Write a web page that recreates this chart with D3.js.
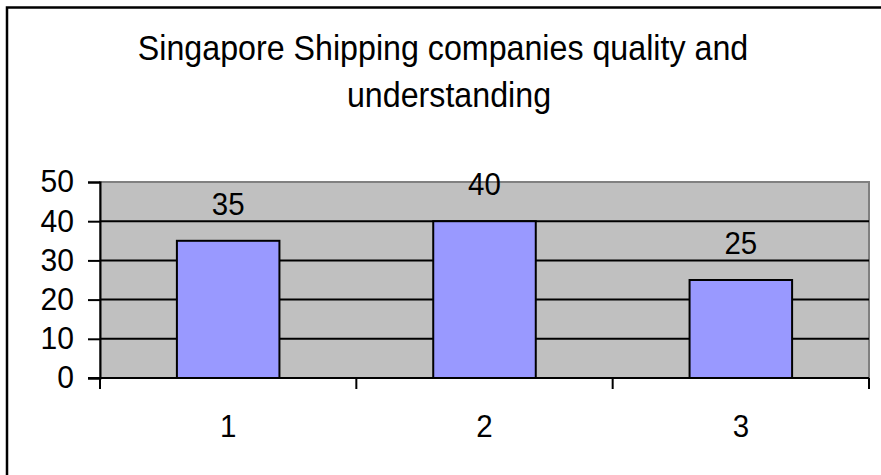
<!DOCTYPE html>
<html>
<head>
<meta charset="utf-8">
<script src="https://cdn.jsdelivr.net/npm/d3@7"></script>
<style>
html,body{margin:0;padding:0;background:#fff;}
svg{display:block;font-family:"Liberation Sans",Arial,sans-serif;}
</style>
</head>
<body>
<svg id="chart" width="881" height="475"></svg>
<script>
const categories = ["1", "2", "3"];
const values = [35, 40, 25];
const yTicks = [0, 10, 20, 30, 40, 50];
const titleLines = ["Singapore Shipping companies quality and", "understanding"];

const svg = d3.select("#chart");
const plot = {left: 100, right: 869, top: 182, bottom: 378};

function condense(sel, factor) {
  sel.each(function() {
    const w = this.getComputedTextLength();
    d3.select(this).attr("textLength", w * factor).attr("lengthAdjust", "spacingAndGlyphs");
  });
}

// outer chart border (extends beyond the picture on right/bottom)
svg.append("rect").attr("x", 7).attr("y", 7.5).attr("width", 900).attr("height", 500)
  .attr("fill", "#fff").attr("stroke", "#000").attr("stroke-width", 2.5);

// title (first line carries a trailing space in the original, shifting it slightly left)
svg.append("g").selectAll("text").data(titleLines).join("text")
  .attr("x", 449).attr("dx", (d, i) => i === 0 ? -6 : 0)
  .attr("y", (d, i) => 60 + i * 47)
  .attr("text-anchor", "middle").attr("font-size", 35).attr("fill", "#000")
  .text(d => d)
  .call(condense, 0.92);

const x = d3.scaleBand().domain(categories).range([plot.left, plot.right]).paddingInner(0.6).paddingOuter(0.3);
const xb = d3.scaleBand().domain(categories).range([plot.left, plot.right]);
const y = d3.scaleLinear().domain([0, 50]).range([plot.bottom, plot.top]);

// plot area
svg.append("rect").attr("x", plot.left).attr("y", plot.top)
  .attr("width", plot.right - plot.left).attr("height", plot.bottom - plot.top)
  .attr("fill", "#C0C0C0").attr("stroke", "#808080").attr("stroke-width", 2);

// gridlines
svg.append("g").selectAll("line").data(yTicks.filter(t => t > 0 && t < 50)).join("line")
  .attr("x1", plot.left).attr("x2", plot.right)
  .attr("y1", d => y(d)).attr("y2", d => y(d))
  .attr("stroke", "#000").attr("stroke-width", 2);

// bars
svg.append("g").selectAll("rect").data(values).join("rect")
  .attr("x", (d, i) => x(categories[i]))
  .attr("y", d => y(d))
  .attr("width", x.bandwidth())
  .attr("height", d => y(0) - y(d))
  .attr("fill", "#9999FF").attr("stroke", "#000").attr("stroke-width", 2);

// value labels
svg.append("g").selectAll("text").data(values).join("text")
  .attr("x", (d, i) => x(categories[i]) + x.bandwidth() / 2)
  .attr("y", d => y(d) - 26)
  .attr("text-anchor", "middle").attr("font-size", 31).attr("fill", "#000")
  .text(d => d)
  .call(condense, 0.95);

// y axis
const yAxis = svg.append("g").attr("transform", `translate(${plot.left},0)`)
  .call(d3.axisLeft(y).tickValues(yTicks).tickSize(12).tickPadding(14));
yAxis.select(".domain").attr("stroke", "#000").attr("stroke-width", 2);
yAxis.selectAll(".tick line").attr("stroke", "#000").attr("stroke-width", 2);
yAxis.selectAll(".tick text").attr("font-size", 31).attr("font-family", "Liberation Sans, Arial, sans-serif").attr("fill", "#000")
  .call(condense, 0.97);

// x axis with ticks at category boundaries
const xAxisG = svg.append("g").attr("transform", `translate(0,${plot.bottom})`);
xAxisG.append("line").attr("x1", plot.left - 12).attr("x2", plot.right).attr("y1", 0).attr("y2", 0)
  .attr("stroke", "#000").attr("stroke-width", 2);
const bounds = categories.map(c => xb(c)).concat([xb(categories[categories.length - 1]) + xb.bandwidth()]);
xAxisG.selectAll("line.t").data(bounds).join("line").attr("class", "t")
  .attr("x1", d => d).attr("x2", d => d).attr("y1", 0).attr("y2", 11)
  .attr("stroke", "#000").attr("stroke-width", 2);
xAxisG.selectAll("text").data(categories).join("text")
  .attr("x", d => xb(d) + xb.bandwidth() / 2).attr("y", 59)
  .attr("text-anchor", "middle").attr("font-size", 31).attr("fill", "#000")
  .text(d => d)
  .call(condense, 0.95);
</script>
</body>
</html>
